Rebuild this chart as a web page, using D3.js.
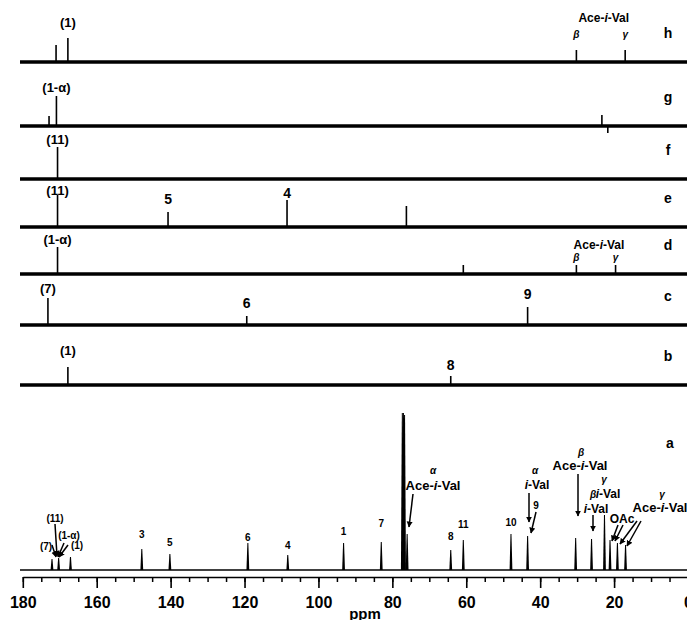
<!DOCTYPE html>
<html>
<head>
<meta charset="utf-8">
<script src="https://cdn.jsdelivr.net/npm/d3@7"></script>
<style>
    body { margin: 0; background: #fff; }
    svg { display: block; }
    text { font-family: "Liberation Sans Narrow", "Liberation Sans", Arial, sans-serif; font-weight: bold; fill: #000; }
</style>
</head>
<body>
<div id="chart"></div>
<script>
// spectra, top to bottom
const spectra = ['h', 'g', 'f', 'e', 'd', 'c', 'b', 'a'];

// peaks of each spectrum: [ppm, intensity]
const peaksH = [[171.0, 17], [167.8, 24], [30.2, 12], [17.0, 12]];
const peaksG = [[172.9, 10], [170.9, 30], [23.3, 11], [21.7, -7]];
const peaksF = [[170.6, 32]];
const peaksE = [[170.6, 32], [140.7, 15], [108.5, 27], [76.2, 21]];
const peaksD = [[170.6, 27], [60.8, 9], [30.2, 9], [19.6, 9]];
const peaksC = [[173.2, 27], [119.4, 9], [43.4, 18]];
const peaksB = [[167.8, 18], [64.2, 9]];
const peaksA = [
    [172.1, 11], [170.3, 12], [167.1, 13], [147.8, 21], [140.2, 16], [119.1, 27],
    [108.3, 15], [93.2, 27], [83.0, 28], [77.3, 157], [77.0, 157], [76.7, 155],
    [76.0, 36], [64.2, 20], [60.8, 30], [47.9, 36], [43.4, 34], [30.4, 32],
    [26.1, 31], [22.6, 55], [21.1, 30], [19.1, 27], [16.9, 25]
];

// axis ticks (ppm)
const majorTicks = [180, 160, 140, 120, 100, 80, 60, 40, 20, 0];
const minorTicks = d3.range(0, 181, 5);

// peak labels on the difference spectra: [spectrum, ppm, text]
const peakLabels = [
    ['h', 167.8, '(1)'], ['g', 170.9, '(1-α)'], ['f', 170.6, '(11)'],
    ['e', 170.6, '(11)'], ['e', 140.7, '5'], ['e', 108.5, '4'],
    ['d', 170.6, '(1-α)'], ['c', 173.2, '(7)'], ['c', 119.4, '6'], ['c', 43.4, '9'],
    ['b', 167.8, '(1)'], ['b', 64.2, '8']
];
// Ace-i-Val beta / gamma markers: [spectrum, beta ppm, gamma ppm]
const aceLabels = [['h', 30.2, 17.0], ['d', 30.2, 19.6]];

// numbered peaks of spectrum a: [ppm, text]
const aLabels = [
    [147.8, '3'], [140.2, '5'], [119.1, '6'], [108.3, '4'], [93.2, '1'],
    [83.0, '7'], [64.2, '8'], [60.8, '11'], [47.9, '10']
];

// ---- layout ----
const width = 687, height = 620;
const baseY = { h: 62, g: 126, f: 179, e: 227, d: 274, c: 325, b: 385, a: 570 };
const labelGap = {
    'h(1)': 11, 'g(1-α)': 4, 'f(11)': 3, 'e(11)': 0, 'e5': 8, 'e4': 2,
    'd(1-α)': 3, 'c(7)': 5, 'c6': 8, 'c9': 8, 'b(1)': 12, 'b8': 6
};
// offsets above baseline for the Ace-i-Val text and the greek letters
const aceLift = { h: [40, 24], d: [25, 13] };
const aGap = { '3': 11, '5': 8, '6': 2, '4': 6, '1': 8, '7': 15, '8': 10, '11': 12, '10': 8 };
const axisY = 577;

const svg = d3.select('#chart')
    .append('svg')
    .attr('width', width)
    .attr('height', height);

svg.append('defs')
    .append('marker')
    .attr('id', 'arrow')
    .attr('viewBox', '0 0 10 10')
    .attr('refX', 9)
    .attr('refY', 5)
    .attr('markerWidth', 6)
    .attr('markerHeight', 7)
    .attr('markerUnits', 'userSpaceOnUse')
    .attr('orient', 'auto')
    .append('path')
    .attr('d', 'M0,0 L10,5 L0,10 Z')
    .attr('fill', '#000');

// ppm scale, reversed like the instrument plot
const x = d3.scaleLinear().domain([180, 0]).range([22.8, 688]);

// intensity scale for one spectrum
const yFor = s => d3.scaleLinear().domain([0, 100]).range([baseY[s], baseY[s] - 100]);

const allPeaks = { h: peaksH, g: peaksG, f: peaksF, e: peaksE, d: peaksD, c: peaksC, b: peaksB, a: peaksA };

// difference spectra: thick noisy baselines with stick peaks
spectra.filter(s => s !== 'a').forEach(s => {
    const y = yFor(s);
    const g = svg.append('g').attr('class', `spectrum-${s}`);
    g.append('line')
        .attr('x1', 20).attr('x2', width)
        .attr('y1', y(0)).attr('y2', y(0))
        .attr('stroke', '#000')
        .attr('stroke-width', 3.6);
    g.selectAll('line.peak')
        .data(allPeaks[s])
        .enter()
        .append('line')
        .attr('class', 'peak')
        .attr('x1', d => x(d[0])).attr('x2', d => x(d[0]))
        .attr('y1', y(0)).attr('y2', d => y(d[1]))
        .attr('stroke', '#000')
        .attr('stroke-width', 1.6);
    g.append('text')
        .attr('x', 668)
        .attr('y', y(0) - 24)
        .attr('text-anchor', 'middle')
        .attr('font-size', 14)
        .text(s);
});

// peak labels
peakLabels.forEach(([s, ppm, t]) => {
    const y = yFor(s);
    const pk = allPeaks[s].find(p => p[0] === ppm);
    svg.append('text')
        .attr('x', x(ppm))
        .attr('y', y(pk[1]) - labelGap[s + t])
        .attr('text-anchor', 'middle')
        .attr('font-size', t.length > 1 ? 13 : 14)
        .text(t);
});

function aceText(parent, cx, cy, size, prefix) {
    const t = parent.append('text')
        .attr('x', cx).attr('y', cy)
        .attr('text-anchor', 'middle')
        .attr('font-size', size);
    if (prefix) t.append('tspan').text('Ace-');
    t.append('tspan').attr('font-style', 'italic').text('i');
    t.append('tspan').text('-Val');
    return t;
}

function greek(cx, cy, ch) {
    svg.append('text')
        .attr('x', cx).attr('y', cy)
        .attr('text-anchor', 'middle')
        .attr('font-size', 10)
        .attr('font-style', 'italic')
        .attr('font-family', 'DejaVu Serif, serif')
        .text(ch);
}

aceLabels.forEach(([s, b, gm]) => {
    const y0 = baseY[s];
    aceText(svg, (x(b) + x(gm)) / 2 + 3, y0 - aceLift[s][0], 12, true);
    greek(x(b), y0 - aceLift[s][1], 'β');
    greek(x(gm), y0 - aceLift[s][1], 'γ');
});

// spectrum a: full 13C spectrum
const ya = yFor('a');
const ga = svg.append('g').attr('class', 'spectrum-a');
ga.append('line')
    .attr('x1', 20).attr('x2', width)
    .attr('y1', ya(0)).attr('y2', ya(0))
    .attr('stroke', '#000')
    .attr('stroke-width', 1.3);
ga.selectAll('path.peak')
    .data(peaksA)
    .enter()
    .append('path')
    .attr('class', 'peak')
    .attr('d', d => {
        const px = x(d[0]), top = ya(d[1]), b = ya(0);
        return `M${px - 1.4},${b} L${px - 0.5},${top} L${px + 0.5},${top} L${px + 1.4},${b} Z`;
    })
    .attr('fill', '#000');

ga.selectAll('text.num')
    .data(aLabels)
    .enter()
    .append('text')
    .attr('class', 'num')
    .attr('x', d => x(d[0]))
    .attr('y', d => ya(peaksA.find(p => p[0] === d[0])[1]) - aGap[d[1]])
    .attr('text-anchor', 'middle')
    .attr('font-size', 10)
    .text(d => d[1]);

svg.append('text').attr('x', 670).attr('y', 448).attr('text-anchor', 'middle')
    .attr('font-size', 14).text('a');

function arrow(x1, y1, x2, y2, head) {
    const l = svg.append('line')
        .attr('x1', x1).attr('y1', y1).attr('x2', x2).attr('y2', y2)
        .attr('stroke', '#000').attr('stroke-width', 1.5);
    if (head !== false) l.attr('marker-end', 'url(#arrow)');
}

// carbonyl cluster labels
[['(11)', 55, 522], ['(1-α)', 69, 539], ['(7)', 46, 550], ['(1)', 77, 549]].forEach(([t, cx, cy]) => {
    svg.append('text').attr('x', cx).attr('y', cy).attr('text-anchor', 'middle')
        .attr('font-size', 10).text(t);
});
arrow(55, 524, 57, 556);
arrow(52, 545, 56, 557);
arrow(64, 543, 58, 557);
arrow(68, 545, 59, 557);

// Ace-i-Val alpha
greek(433, 474, 'α');
aceText(svg, 433, 490, 13, true);
arrow(413, 494, 409, 527);

// i-Val alpha and 9
greek(535, 474, 'α');
aceText(svg, 537, 489, 12, false);
arrow(529, 493, 529, 522);
svg.append('text').attr('x', 536).attr('y', 509).attr('text-anchor', 'middle').attr('font-size', 10).text('9');
arrow(536, 512, 531, 533);

// Ace-i-Val beta
greek(581, 456, 'β');
aceText(svg, 580, 470, 13, true);
arrow(578, 474, 578, 516);

// i-Val gamma
greek(604, 483, 'γ');
aceText(svg, 608, 498, 12, false);

// i-Val beta
greek(593, 498, 'β');
aceText(svg, 596, 513, 12, false);
arrow(593, 515, 593, 531);

// OAc
svg.append('text').attr('x', 622).attr('y', 523).attr('text-anchor', 'middle').attr('font-size', 12).text('OAc');
arrow(618, 525, 612, 541);
arrow(623, 525, 615, 541);

// Ace-i-Val gamma
greek(662, 498, 'γ');
aceText(svg, 660, 512, 13, true);
arrow(637, 521, 620, 544);
arrow(641, 521, 627, 546);

// ppm axis
const axisG = svg.append('g')
    .attr('transform', `translate(0, ${axisY})`);
axisG.append('g')
    .call(d3.axisBottom(x).tickValues(minorTicks).tickSize(5).tickSizeOuter(0).tickFormat(''))
    .call(g => g.select('.domain').remove())
    .selectAll('line').attr('stroke-width', 1.5);
axisG.append('g')
    .call(d3.axisBottom(x).tickValues(majorTicks).tickSize(11).tickSizeOuter(0).tickPadding(9).tickFormat(d3.format('d')))
    .call(g => g.select('.domain').attr('stroke-width', 1.6))
    .call(g => g.selectAll('line').attr('stroke-width', 1.6))
    .call(g => g.selectAll('text')
        .attr('font-size', 16)
        .attr('font-family', '"Liberation Sans Narrow", "Liberation Sans", Arial, sans-serif')
        .attr('font-weight', 'bold')
        .attr('fill', '#000'));

svg.append('text')
    .attr('x', 365)
    .attr('y', 619)
    .attr('text-anchor', 'middle')
    .attr('font-size', 15)
    .text('ppm');
</script>
</body>
</html>
